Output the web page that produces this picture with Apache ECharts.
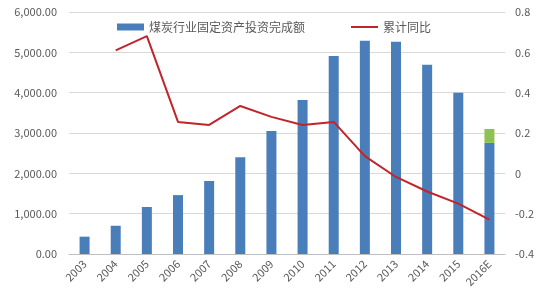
<!DOCTYPE html>
<html><head><meta charset="utf-8">
<script src="https://cdn.jsdelivr.net/npm/echarts@6/dist/echarts.min.js"></script>
<style>html,body{margin:0;padding:0;background:#fff}#c{width:550px;height:300px}</style>
</head><body><div id="c"></div>
<script>
var categories = ['2003','2004','2005','2006','2007','2008','2009','2010','2011','2012','2013','2014','2015','2016E'];
var investment = [430, 700, 1165, 1460, 1810, 2400, 3050, 3820, 4910, 5285, 5260, 4690, 4000, 2755];
var extra2016 = ['-', '-', '-', '-', '-', '-', '-', '-', '-', '-', '-', '-', '-', 345];
var yoy = ['-', 0.61, 0.68, 0.255, 0.24, 0.334, 0.28, 0.24, 0.255, 0.085, -0.018, -0.09, -0.15, -0.23];
var seriesNames = ['煤炭行业固定资产投资完成额', '累计同比'];

var chart = echarts.init(document.getElementById('c'));
var font = '"Microsoft YaHei","Noto Sans CJK SC",sans-serif';
chart.setOption({
  animation: false,
  textStyle: {fontFamily: font},
  legend: {
    top: 16, left: 112, itemGap: 46, itemWidth: 27, itemHeight: 7,
    textStyle: {color: '#595959', fontSize: 12, fontFamily: font},
    data: [{name: seriesNames[0], icon: 'rect'},
           {name: seriesNames[1], icon: 'path://M0,0 L30,0 L30,2.2 L0,2.2 Z'}]
  },
  grid: {left: 69, right: 45, top: 12, bottom: 46},
  xAxis: {
    type: 'category', data: categories,
    axisLine: {lineStyle: {color: '#bfbfbf'}},
    axisTick: {show: false},
    axisLabel: {rotate: 45, color: '#595959', fontSize: 11, margin: 8, interval: 0}
  },
  yAxis: [{
    type: 'value', min: 0, max: 6000, interval: 1000,
    axisLine: {show: false}, axisTick: {show: false},
    splitLine: {lineStyle: {color: '#d9d9d9'}},
    axisLabel: {color: '#595959', fontSize: 11, margin: 12,
      formatter: function(v){ return v.toLocaleString('en-US',{minimumFractionDigits:2, maximumFractionDigits:2}); }}
  }, {
    type: 'value', min: -0.4, max: 0.8, interval: 0.2,
    axisLine: {show: false}, axisTick: {show: false}, splitLine: {show: false},
    axisLabel: {color: '#595959', fontSize: 11, margin: 10,
      formatter: function(v){ return Math.abs(v) < 1e-9 ? '0' : String(Math.round(v*10)/10); }}
  }],
  series: [{
    name: seriesNames[0], type: 'bar', stack: 'a', data: investment, barWidth: 10,
    itemStyle: {color: '#4a7ebb'}
  }, {
    name: 'extra', type: 'bar', stack: 'a', data: extra2016, barWidth: 10,
    itemStyle: {color: '#8dc153'}
  }, {
    name: seriesNames[1], type: 'line', yAxisIndex: 1, data: yoy,
    symbol: 'none', lineStyle: {color: '#c0252b', width: 2}, itemStyle: {color: '#c0252b'}
  }]
});
</script></body></html>
